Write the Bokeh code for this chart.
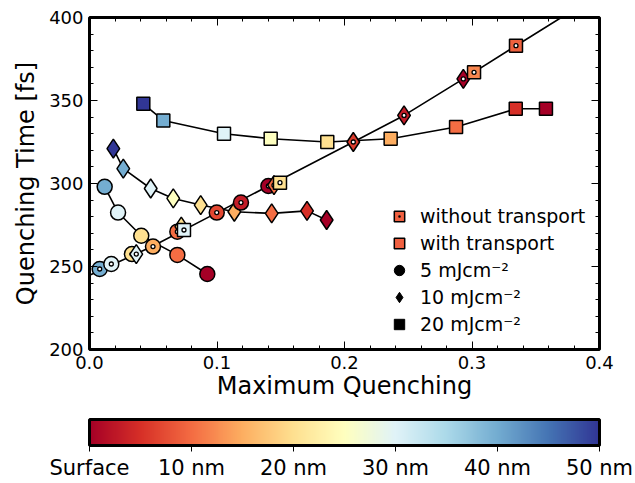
import numpy as np
from bokeh.plotting import figure
from bokeh.models import (ColumnDataSource, LinearColorMapper, ColorBar, FixedTicker,
                          Legend, LegendItem, LinearAxis, PrintfTickFormatter, Range1d)
from bokeh.embed import file_html
from bokeh.resources import INLINE

FONT = "DejaVu Sans"

# ---------------- data ----------------
# depth of each point in nm (0 = surface), mapped through the RdYlBu colour scale
# 5 mJ/cm^2 (circles)
c5_tr_x = [0.0119, 0.0224, 0.0406, 0.0689, 0.0924]
c5_tr_y = [298.0, 282.5, 268.5, 257.0, 245.5]
c5_tr_d = [40, 30, 20, 10, 0]

c5_nt_x = [0.0080, 0.0171, 0.0333, 0.0498, 0.0689, 0.0998, 0.1188, 0.1403]
c5_nt_y = [248.5, 251.5, 257.5, 262.0, 271.0, 282.5, 288.5, 298.5]
c5_nt_d = [40, 30, 20, 15, 10, 7, 3, 0]

# 10 mJ/cm^2 (diamonds)
c10_tr_x = [0.0187, 0.0265, 0.0480, 0.0657, 0.0872, 0.1136, 0.1429, 0.1706, 0.1860]
c10_tr_y = [321.0, 309.0, 297.0, 291.0, 287.0, 283.0, 282.0, 283.5, 278.0]
c10_tr_d = [50, 40, 30, 25, 20, 15, 10, 5, 0]

c10_nt_x = [0.0367, 0.0720, 0.1447, 0.2069, 0.2467, 0.2932]
c10_nt_y = [257.5, 274.0, 299.0, 325.0, 341.0, 363.0]
c10_nt_d = [30, 20, 10, 6, 3, 0]

# 20 mJ/cm^2 (squares)
c20_tr_x = [0.0422, 0.0579, 0.1055, 0.1421, 0.1865, 0.2362, 0.2875, 0.3343, 0.3580]
c20_tr_y = [348.0, 338.0, 330.0, 327.0, 325.0, 327.0, 334.0, 345.0, 345.0]
c20_tr_d = [50, 40, 30, 25, 20, 15, 10, 5, 0]

c20_nt_x = [0.0741, 0.1494, 0.3016, 0.3345]
c20_nt_y = [272.0, 300.5, 367.0, 383.0]
c20_nt_d = [30, 20, 12, 9]

# common curve of the "without transport" results
nt_curve_x = [0.0, 0.0498, 0.0998, 0.1403, 0.2069, 0.2467, 0.2932, 0.3345, 0.3700, 0.4000]
nt_curve_y = [244.7, 262.3, 282.3, 298.5, 325.0, 341.0, 363.0, 383.0, 400.0, 415.0]

# axis ticks
x_major = [0.0, 0.1, 0.2, 0.3, 0.4]
x_minor = [0.02, 0.04, 0.06, 0.08, 0.12, 0.14, 0.16, 0.18, 0.22, 0.24, 0.26, 0.28,
           0.32, 0.34, 0.36, 0.38]
y_major = [200, 250, 300, 350, 400]
y_minor = [210, 220, 230, 240, 260, 270, 280, 290, 310, 320, 330, 340, 360, 370, 380, 390]

cbar_ticks = [0, 10, 20, 30, 40, 50]
cbar_labels = ["Surface", "10 nm", "20 nm", "30 nm", "40 nm", "50 nm"]

legend_labels = ["without transport", "with transport",
                 "5 mJcm\u207b\u00b2", "10 mJcm\u207b\u00b2", "20 mJcm\u207b\u00b2"]

# ---------------- colour map (RdYlBu) ----------------
rdylbu_anchors = ["#a50026", "#d73027", "#f46d43", "#fdae61", "#fee090", "#ffffbf",
                  "#e0f3f8", "#abd9e9", "#74add1", "#4575b4", "#313695"]


def interp_palette(anchors, n=256):
    rgb = np.array([[int(c[i:i + 2], 16) for i in (1, 3, 5)] for c in anchors], float)
    t = np.linspace(0, 1, len(anchors))
    tt = np.linspace(0, 1, n)
    out = np.stack([np.interp(tt, t, rgb[:, k]) for k in range(3)], axis=1)
    return ["#%02x%02x%02x" % tuple(int(round(v)) for v in row) for row in out]


palette = interp_palette(rdylbu_anchors)
mapper = LinearColorMapper(palette=palette, low=0, high=50)
fill = {"field": "d", "transform": mapper}

# ---------------- figure ----------------
p = figure(width=635, height=483, x_range=Range1d(0, 0.4), y_range=Range1d(200, 400),
           output_backend="svg", toolbar_location=None,
           min_border_left=89, min_border_right=36, min_border_top=17,
           min_border_bottom=134)
p.background_fill_color = "white"
p.border_fill_color = "white"
p.xgrid.visible = False
p.ygrid.visible = False
p.outline_line_color = "black"
p.outline_line_width = 3

p.add_layout(LinearAxis(), "above")
p.add_layout(LinearAxis(), "right")

xt = FixedTicker(ticks=x_major, minor_ticks=x_minor)
yt = FixedTicker(ticks=y_major, minor_ticks=y_minor)
for ax in p.xaxis:
    ax.ticker = xt
for ax in p.yaxis:
    ax.ticker = yt
for ax in p.axis:
    ax.axis_line_color = None
    ax.major_tick_in = 8
    ax.major_tick_out = 0
    ax.minor_tick_in = 4
    ax.minor_tick_out = 0
    ax.major_tick_line_color = "black"
    ax.minor_tick_line_color = "black"
    ax.major_tick_line_width = 1
    ax.minor_tick_line_width = 1
    ax.major_label_text_font = FONT
    ax.major_label_text_font_size = "18px"
    ax.major_label_text_color = "black"
    ax.axis_label_text_font = FONT
    ax.axis_label_text_font_size = "24px"
    ax.axis_label_text_font_style = "normal"
    ax.axis_label_text_color = "black"

# top and right axes: ticks only, no labels
p.above[0].formatter = PrintfTickFormatter(format="")
p.right[0].formatter = PrintfTickFormatter(format="")
p.above[0].major_label_standoff = 0
p.right[0].major_label_standoff = 0

p.below[0].formatter = PrintfTickFormatter(format="%.1f")
p.below[0].axis_label = "Maximum Quenching"
p.below[0].major_label_standoff = 6
p.below[0].axis_label_standoff = 0
p.left[0].axis_label = "Quenching Time [fs]"
p.left[0].major_label_standoff = 6
p.left[0].axis_label_standoff = 6

LW = 1.6
MLW = 1.5


def src(x, y, d):
    return ColumnDataSource(dict(x=x, y=y, d=d))


# curve of the results without transport
p.line(nt_curve_x, nt_curve_y, line_color="black", line_width=LW)

# with transport: lines + markers
for x, y, d, mk, sz in [(c5_tr_x, c5_tr_y, c5_tr_d, "circle", 15),
                        (c10_tr_x, c10_tr_y, c10_tr_d, "diamond", 19),
                        (c20_tr_x, c20_tr_y, c20_tr_d, "square", 13)]:
    s = src(x, y, d)
    p.line("x", "y", source=s, line_color="black", line_width=LW)
    p.scatter("x", "y", source=s, marker=mk, size=sz, fill_color=fill,
              line_color="black", line_width=MLW)

# without transport: markers with a white dot
for x, y, d, mk, sz in [(c5_nt_x, c5_nt_y, c5_nt_d, "circle", 15),
                        (c10_nt_x, c10_nt_y, c10_nt_d, "diamond", 19),
                        (c20_nt_x, c20_nt_y, c20_nt_d, "square", 13)]:
    s = src(x, y, d)
    p.scatter("x", "y", source=s, marker=mk, size=sz, fill_color=fill,
              line_color="black", line_width=MLW)
    p.scatter("x", "y", source=s, marker="circle", size=4, fill_color="white",
              line_color="black", line_width=1.3)

# ---------------- legend ----------------
LEG_ORANGE = "#f06040"
nan_src = ColumnDataSource(dict(x=np.array([np.nan]), y=np.array([np.nan])))
r_nt = p.scatter("x", "y", source=nan_src, marker="square_dot", size=13,
                 fill_color=LEG_ORANGE, line_color="black", line_width=1.5)
r_tr = p.scatter("x", "y", source=nan_src, marker="square", size=13,
                 fill_color=LEG_ORANGE, line_color="black", line_width=1.5)
r_5 = p.scatter("x", "y", source=nan_src, marker="circle", size=12,
                fill_color="black", line_color="black")
r_10 = p.scatter("x", "y", source=nan_src, marker="diamond", size=16,
                 fill_color="black", line_color="black")
r_20 = p.scatter("x", "y", source=nan_src, marker="square", size=12,
                 fill_color="black", line_color="black")

legend = Legend(items=[LegendItem(label=legend_labels[0], renderers=[r_nt]),
                       LegendItem(label=legend_labels[1], renderers=[r_tr]),
                       LegendItem(label=legend_labels[2], renderers=[r_5]),
                       LegendItem(label=legend_labels[3], renderers=[r_10]),
                       LegendItem(label=legend_labels[4], renderers=[r_20])],
                location=(295, 12), margin=0, padding=5,
                glyph_width=30, glyph_height=26, spacing=1, label_standoff=6,
                label_text_font=FONT, label_text_font_size="19px",
                label_text_color="black", label_height=20,
                background_fill_alpha=0, border_line_color=None)
p.add_layout(legend)

# ---------------- colour bar (below the frame, positioned from the frame) ----------------
cbar = ColorBar(color_mapper=mapper, orientation="horizontal", height=26, width=510,
                location=(0, -133),
                ticker=FixedTicker(ticks=cbar_ticks),
                major_label_overrides=dict(zip(cbar_ticks, cbar_labels)),
                major_label_text_font=FONT, major_label_text_font_size="21px",
                major_label_text_color="black",
                major_tick_in=0, major_tick_out=6, major_tick_line_color="black",
                minor_tick_line_color=None,
                bar_line_color="black", bar_line_width=3,
                padding=0, margin=0, label_standoff=4,
                background_fill_alpha=0, border_line_color=None)
p.add_layout(cbar)

open("out.html", "w").write(file_html(p, INLINE))
